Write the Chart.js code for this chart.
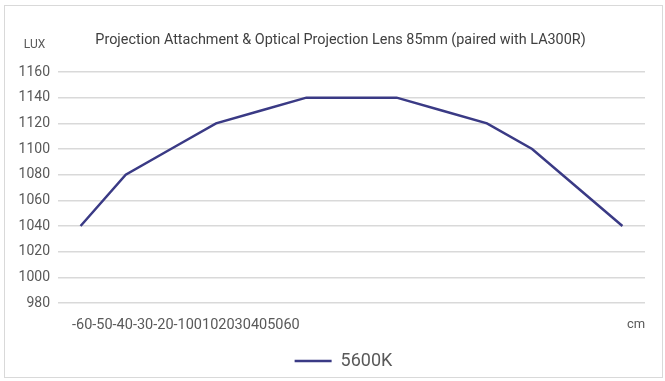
<!DOCTYPE html>
<html>
<head>
<meta charset="utf-8">
<script src="https://cdn.jsdelivr.net/npm/chart.js@4.4.0/dist/chart.umd.min.js"></script>
<style>
  html, body { margin: 0; padding: 0; background: #fff; }
  #wrap { width: 665px; height: 381px; position: relative; }
</style>
</head>
<body>
<div id="wrap"><canvas id="c" width="665" height="381"></canvas></div>
<script>
const categories = ['-60','-50','-40','-30','-20','-10','0','10','20','30','40','50','60'];
const series5600K = [1040, 1080, 1100, 1120, 1130, 1140, 1140, 1140, 1130, 1120, 1100, 1070, 1040];
const yTicks = [980, 1000, 1020, 1040, 1060, 1080, 1100, 1120, 1140, 1160];
const titleText = 'Projection Attachment & Optical Projection Lens 85mm (paired with LA300R)';
const yUnit = 'LUX';
const xUnit = 'cm';
const seriesName = '5600K';

const FONT = 'Roboto, "Liberation Sans", sans-serif';
const LINE = '#3a3a85';
const TEXT = '#595959';

const extras = {
  id: 'extras',
  afterLayout(chart) {
    // centre the legend under the middle of the frame, as in the reference
    const lg = chart.legend;
    if (lg) { lg.left += 19; lg.right += 19; }
  },
  beforeDraw(chart) {
    const ctx = chart.ctx;
    ctx.save();
    ctx.fillStyle = '#ffffff';
    ctx.fillRect(0, 0, chart.width, chart.height);
    ctx.strokeStyle = '#d9d9d9';
    ctx.lineWidth = 1;
    ctx.strokeRect(4.5, 5.5, 658, 372);
    ctx.restore();
  },
  afterDraw(chart) {
    const ctx = chart.ctx;
    const area = chart.chartArea;
    ctx.save();
    ctx.textBaseline = 'middle';
    ctx.fillStyle = '#404040';
    ctx.font = '14.4px ' + FONT;
    ctx.textAlign = 'center';
    ctx.fillText(titleText, 340.5, 40);
    ctx.fillStyle = TEXT;
    ctx.font = '12px ' + FONT;
    ctx.fillText(yUnit, 34.5, 45);
    ctx.font = '14.5px ' + FONT;
    ctx.textAlign = 'left';
    ctx.fillText(categories.join(''), area.left + 14, area.bottom + 22);
    ctx.font = '13px ' + FONT;
    ctx.textAlign = 'center';
    ctx.fillText(xUnit, area.right - 9, area.bottom + 22);
    ctx.restore();
  }
};

new Chart(document.getElementById('c'), {
  type: 'line',
  data: {
    labels: categories,
    datasets: [{
      label: seriesName,
      data: series5600K,
      borderColor: LINE,
      backgroundColor: LINE,
      borderWidth: 2.5,
      pointRadius: 0,
      tension: 0,
      fill: false
    }]
  },
  options: {
    responsive: false,
    animation: false,
    devicePixelRatio: 1,
    layout: { padding: { top: 72, left: 4, right: 20, bottom: 1 } },
    plugins: {
      title: { display: false },
      legend: {
        position: 'bottom',
        labels: {
          color: TEXT,
          font: { family: FONT, size: 18 },
          usePointStyle: true,
          pointStyle: 'line',
          pointStyleWidth: 37,
          boxHeight: 18,
          padding: 9
        }
      },
      tooltip: { enabled: false }
    },
    scales: {
      x: {
        type: 'category',
        offset: true,
        grid: { display: false },
        border: { display: false },
        ticks: { display: false },
        afterFit(s) { s.height = 40; }
      },
      y: {
        min: 980,
        max: 1160,
        afterBuildTicks(s) { s.ticks = yTicks.map(v => ({ value: v })); },
        afterFit(s) { s.width = 54; },
        grid: { color: '#d9d9d9', lineWidth: 1.5, drawTicks: false },
        border: { display: false },
        ticks: {
          color: TEXT,
          padding: 8,
          font: { family: FONT, size: 14 },
          callback: (v) => String(v)
        }
      }
    }
  },
  plugins: [extras]
});
</script>
</body>
</html>
